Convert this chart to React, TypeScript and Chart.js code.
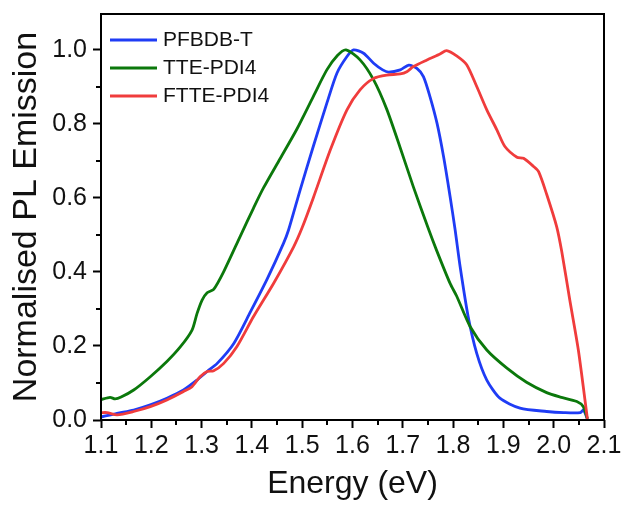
import React, { useEffect, useRef } from "react";
import { Chart, registerables } from "chart.js";

Chart.register(...registerables);

const FONT = "'Liberation Sans', Arial, Helvetica, sans-serif";

// Axis ticks
const xTicks = [1.1, 1.2, 1.3, 1.4, 1.5, 1.6, 1.7, 1.8, 1.9, 2.0, 2.1];
const yTicks = [0.0, 0.2, 0.4, 0.6, 0.8, 1.0];

// Series names and colours
const seriesNames = ["PFBDB-T", "TTE-PDI4", "FTTE-PDI4"];
const seriesColors = ["#1f3cf5", "#0b780b", "#f03c3c"];

// PFBDB-T
const pfbdbE = [1.100, 1.132, 1.165, 1.198, 1.231, 1.264, 1.291, 1.311, 1.331, 1.364, 1.397, 1.430, 1.463, 1.473, 1.496, 1.522, 1.549, 1.569, 1.589, 1.602, 1.622, 1.642, 1.660, 1.672, 1.695, 1.712, 1.728, 1.741, 1.754, 1.768, 1.781, 1.794, 1.804, 1.814, 1.830, 1.847, 1.867, 1.893, 1.933, 1.986, 2.020, 2.053, 2.059, 2.067];
const pfbdbI = [0.008, 0.018, 0.027, 0.041, 0.059, 0.081, 0.108, 0.131, 0.153, 0.207, 0.292, 0.380, 0.478, 0.514, 0.622, 0.739, 0.856, 0.937, 0.982, 1.000, 0.991, 0.964, 0.946, 0.940, 0.946, 0.959, 0.950, 0.928, 0.874, 0.802, 0.712, 0.604, 0.514, 0.414, 0.279, 0.180, 0.108, 0.059, 0.032, 0.023, 0.020, 0.020, 0.027, 0.003];

// TTE-PDI4
const tteE = [1.100, 1.118, 1.128, 1.140, 1.165, 1.198, 1.231, 1.258, 1.281, 1.291, 1.301, 1.311, 1.324, 1.344, 1.377, 1.403, 1.423, 1.456, 1.489, 1.522, 1.549, 1.570, 1.587, 1.615, 1.642, 1.668, 1.695, 1.721, 1.750, 1.767, 1.794, 1.807, 1.834, 1.867, 1.907, 1.946, 1.986, 2.013, 2.046, 2.059, 2.067];
const tteI = [0.055, 0.061, 0.057, 0.062, 0.081, 0.117, 0.158, 0.198, 0.243, 0.288, 0.324, 0.344, 0.353, 0.401, 0.497, 0.572, 0.627, 0.706, 0.785, 0.874, 0.946, 0.985, 1.000, 0.973, 0.919, 0.840, 0.735, 0.630, 0.520, 0.459, 0.369, 0.335, 0.252, 0.189, 0.140, 0.102, 0.074, 0.062, 0.050, 0.036, 0.003];

// FTTE-PDI4
const ftteE = [1.100, 1.112, 1.132, 1.165, 1.198, 1.231, 1.264, 1.281, 1.297, 1.311, 1.324, 1.344, 1.370, 1.403, 1.443, 1.483, 1.500, 1.522, 1.556, 1.589, 1.615, 1.642, 1.668, 1.695, 1.708, 1.721, 1.748, 1.774, 1.787, 1.807, 1.827, 1.847, 1.867, 1.887, 1.903, 1.927, 1.940, 1.960, 1.970, 1.986, 2.006, 2.016, 2.032, 2.049, 2.067];
const ftteI = [0.020, 0.020, 0.014, 0.023, 0.036, 0.054, 0.077, 0.090, 0.117, 0.131, 0.133, 0.153, 0.198, 0.279, 0.369, 0.468, 0.520, 0.600, 0.730, 0.838, 0.892, 0.923, 0.932, 0.935, 0.941, 0.955, 0.973, 0.989, 0.998, 0.984, 0.960, 0.901, 0.838, 0.784, 0.739, 0.710, 0.707, 0.685, 0.671, 0.610, 0.522, 0.455, 0.324, 0.189, 0.003];

const seriesE = [pfbdbE, tteE, ftteE];
const seriesI = [pfbdbI, tteI, ftteI];

const framePlugin = {
  id: "frameAndLegend",
  afterDraw(chart: any) {
    const { ctx, chartArea } = chart;
    const { left, right, top, bottom } = chartArea;
    const xs = chart.scales.x;
    const ys = chart.scales.y;
    ctx.save();
    ctx.strokeStyle = "#000";
    ctx.lineWidth = 2;
    ctx.strokeRect(left, top, right - left, bottom - top);
    // minor ticks
    ctx.lineWidth = 2;
    ctx.beginPath();
    for (let i = 0; i < xTicks.length - 1; i++) {
      const v = (xTicks[i] + xTicks[i + 1]) / 2;
      const px = Math.round(xs.getPixelForValue(v));
      ctx.moveTo(px, bottom);
      ctx.lineTo(px, bottom + 5);
    }
    for (let i = 0; i < yTicks.length - 1; i++) {
      const v = (yTicks[i] + yTicks[i + 1]) / 2;
      const py = Math.round(ys.getPixelForValue(v));
      ctx.moveTo(left, py);
      ctx.lineTo(left - 5, py);
    }
    ctx.stroke();
    // legend
    ctx.font = `21px ${FONT}`;
    ctx.textBaseline = "middle";
    ctx.textAlign = "left";
    for (let i = 0; i < seriesNames.length; i++) {
      const yy = top + 26 + i * 28;
      ctx.strokeStyle = seriesColors[i];
      ctx.lineWidth = 2.8;
      ctx.beginPath();
      ctx.moveTo(left + 9, yy);
      ctx.lineTo(left + 56, yy);
      ctx.stroke();
      ctx.fillStyle = "#111";
      ctx.fillText(seriesNames[i], left + 62, yy);
    }
    ctx.restore();
  },
};

export default function App() {
  const ref = useRef<HTMLCanvasElement | null>(null);
  useEffect(() => {
    document.body.style.margin = "0";
    Chart.defaults.font.family = FONT;
    const datasets = seriesNames.map((name, i) => ({
      label: name,
      data: seriesE[i].map((e, j) => ({ x: e, y: seriesI[i][j] })),
      borderColor: seriesColors[i],
      backgroundColor: seriesColors[i],
      borderWidth: 2.8,
      pointRadius: 0,
      tension: 0.25,
      fill: false,
      order: seriesNames.length - i,
    }));
    const chart = new Chart(ref.current as HTMLCanvasElement, {
      type: "line",
      data: { datasets },
      options: {
        responsive: false,
        animation: false,
        devicePixelRatio: 1,
        layout: { padding: { top: 14, right: 19, left: 0, bottom: 0 } },
        plugins: { legend: { display: false }, tooltip: { enabled: false } },
        scales: {
          x: {
            type: "linear",
            min: 1.1,
            max: 2.1,
            afterBuildTicks: (s: any) => {
              s.ticks = xTicks.map((v) => ({ value: v }));
            },
            afterFit: (s: any) => {
              s.height = 86;
              s.paddingLeft = 0;
              s.paddingRight = 0;
            },
            ticks: {
              color: "#111",
              font: { size: 25 },
              padding: 3,
              maxRotation: 0,
              autoSkip: false,
              callback: (v: any) => Number(v).toFixed(1),
            },
            grid: {
              display: true,
              drawOnChartArea: false,
              drawTicks: true,
              tickLength: 8,
              tickWidth: 2,
              tickColor: "#000",
            },
            border: { display: false },
            title: {
              display: true,
              text: "Energy (eV)",
              color: "#111",
              font: { size: 32, lineHeight: 1 },
              padding: { top: 0, bottom: 6 },
            },
          },
          y: {
            type: "linear",
            min: 0,
            max: 1.097,
            afterBuildTicks: (s: any) => {
              s.ticks = yTicks.map((v) => ({ value: v }));
            },
            afterFit: (s: any) => {
              s.width = 101;
              s.paddingTop = 0;
              s.paddingBottom = 0;
            },
            ticks: {
              color: "#111",
              font: { size: 25 },
              padding: 6,
              callback: (v: any) => Number(v).toFixed(1),
            },
            grid: {
              display: true,
              drawOnChartArea: false,
              drawTicks: true,
              tickLength: 8,
              tickWidth: 2,
              tickColor: "#000",
            },
            border: { display: false },
            title: {
              display: true,
              text: "Normalised PL Emission",
              color: "#111",
              font: { size: 34, lineHeight: 1 },
              padding: { top: 10, bottom: 0 },
            },
          },
        },
      },
      plugins: [framePlugin],
    });
    return () => chart.destroy();
  }, []);
  return (
    <div style={{ width: 623, height: 506 }}>
      <canvas ref={ref} width={623} height={506} />
    </div>
  );
}
